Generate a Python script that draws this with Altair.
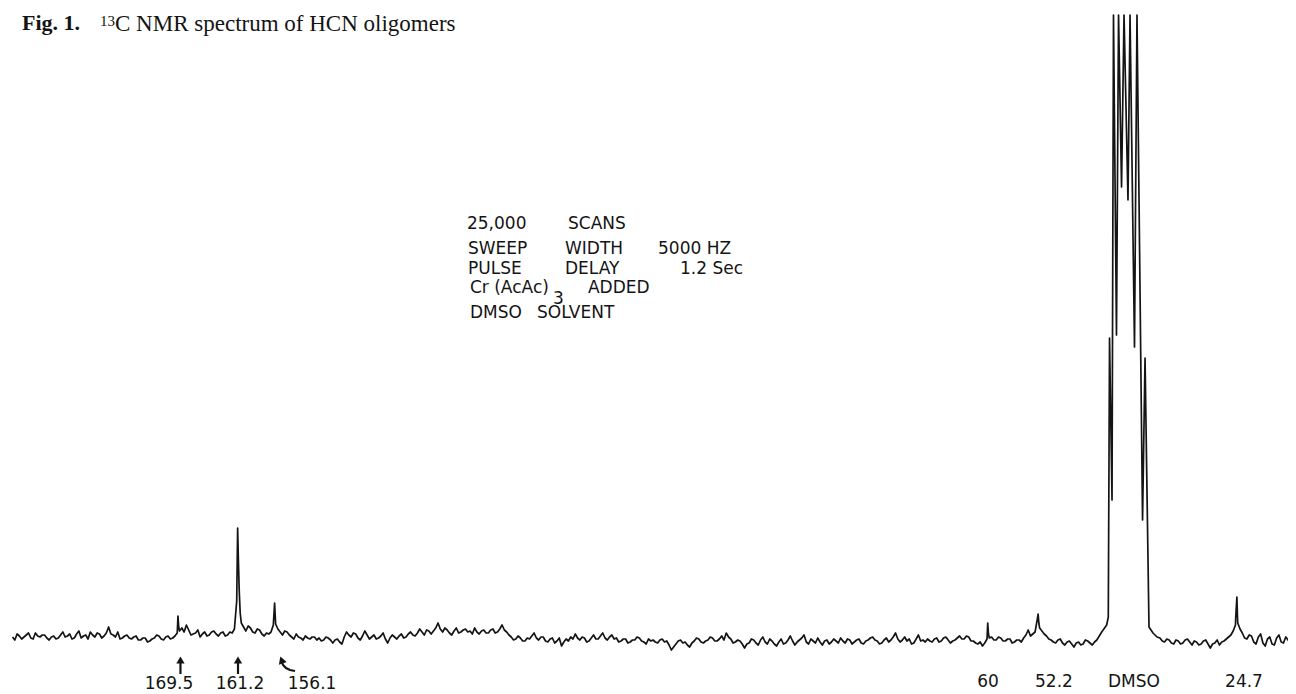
import altair as alt
import numpy as np
import pandas as pd

# ---------------- spectrum data (intensity in arbitrary units) -------------
LEFT_START = 192.0      # ppm of first baseline sample
STEP = 0.3125           # ppm between baseline samples
left_noise = [
    4, 1, 7, 5, 2, 4, 6, 8, 3, 2, 8, 5, 4, 6, 6, 3, 1, 4, 5, 2,
    3, 6, 9, 4, 5, 7, 2, 3, 7, 10, 3, 5, 6, 2, 9, 6, 4, 8, 7, 3,
    5, 8, 14, 7, 6, 4, 9, 2, 3, 5, 6, 3, 2, 4, 5, 1, 1, 3, 3, -1,
    0, 2, 3, 6, 5, 2, 1, 4, 5, 2, 3, 5, 8, 10, 13, 9, 16, 11, 6, 7,
    8, 11, 4, 7, 9, 5, 6, 9, 10, 7, 5, 8, 9, 5, 6, 9, 8, 12, 40, 58,
    18, 14, 10, 15, 13, 9, 8, 12, 11, 7, 5, 8, 7, 9, 16, 17, 12, 9, 6, 10,
    9, 6, 4, 2, 7, 4, 3, 1, 5, 3, 2, 4, 4, 1, 3, 0, 1, 4, 3, 1,
    -2, 1, 2, -1, -3, 4, 9, 6, 4, 8, 7, 3, 1, 5, 10, 6, 2, 4, 6, 2,
    3, 5, 8, 2, -2, 3, 6, 4, 2, 5, 7, 3, 4, 7, 9, 6, 5, 8, 12, 9,
    6, 11, 10, 7, 10, 13, 18, 12, 9, 13, 11, 8, 6, 10, 13, 8, 9, 11, 12, 9,
    10, 7, 13, 9, 7, 10, 11, 8, 8, 11, 12, 8, 9, 12, 16, 11, 9, 6, 4, 1,
    2, 5, 3, 0, 0, 3, 2, 5, 8, 3, 1, 4, 4, 0, -1, 2, 3, -2, 0, 3,
    -5, -1, 2, 0, 4, 2, 7, 3, 1, 4, 3, -1, 0, 3, 6, 2, 2, 5, 8, 3,
    1, 4, 6, 2, 3, -1, 0, 2, 2, -2, -1, 1, 1, 4, 3, 0, -1, -3, 2, 0,
    1, -1, -2, 1, 2, -1, 0, -4, -9, -6, -3, 0, 1, -2, -1, -4, -6, -2, 0, 3,
    2, -1, -2, 0, 1, 4, 3, 0, 0, 2, 5, 1, 8, 4, 2, -2, -1, 1, 0, -3,
    -7, -3, -2, 2, 1, -2, -4, 1, 4, -1, -3, 2, 0, -3, -5, -1, 2, -3, -2, 1,
    5, 0, -4, -1, 1, 3, 6, -1, -3, 2, 0, -2, 3, -1, -4, 0, 1, -3, -1, 2,
    0, -2, 3, 0, -2, 2, 1, -3, -1, 1, 2, -2, -3, 0, 1, 3, 4, 1, 0, -3,
    -2, 1, 3, -1, 1, 4, 8, 2, -1, 1, 4, 0, 2, -3, -2, 2, 6, 0, 1, -1,
    2, 0, -1, 2, 3, -1, 0, 3, 4, 1, -2, 0, 1, 3, 5, 2, 2, 5, 4, 0,
    0, -2, -3, -1, -5, -2, 2, 3, 4, 1, 1, 4, 3, 0, 0, 2, 2, -2, -1, 1,
    1, -1, 3, 6, 11, 5, 7, 9, 22, 13, 10, 7, 5, 2, 1, -1, -2, 1, 2, -2,
    -4, -1, 0, -3, -6, -2, -1, -4, -3, 1, 0, -2, -4, -1, 1,
]
RIGHT_START = 35.25
right_noise = [
    3, 0, -1, 2, 1, -2, -3, 1, 0, -3, -2, 1, 2, -1, -4, 0, -1, -4, -3, 0,
    1, -3, -7, -3, -2, 1, -4, -1, 0, 2, 4, 6, 10, 16, 18, 12, 8, 3, 2, 6,
    5, -1, -3, 4, 7, -2, -5, 2, 4, -3, -4, 3, 6, -1, -2, 4, 1, -3, -4,
]

# sharp resonances (ppm, intensity)
peak_ppm = [169.4, 169.3, 161.25, 161.15, 161.02, 160.9, 156.2, 156.08,
            58.78, 58.68, 51.9, 51.78, 24.9, 24.74, 24.68]
peak_int = [25, 14, 113, 82, 48, 28, 38, 20,
            18, 7, 27, 17, 24, 44, 28]

# DMSO-d6 septet (inner lines run off the top of the chart paper)
dmso_ppm = [43.21, 42.53, 42.31, 42.14, 41.80, 41.60, 41.19, 40.91, 40.50, 40.16,
            39.62, 39.34, 38.73, 38.39, 37.63, 37.29, 36.75, 36.20, 35.65]
dmso_int = [9, 16, 24, 303, 141, 626, 306, 626, 454, 626,
            441, 626, 294, 626, 121, 283, 14, 8, 4]

left_ppm = LEFT_START - STEP * np.arange(len(left_noise))
right_ppm = RIGHT_START - STEP * np.arange(len(right_noise))

spec = pd.DataFrame({
    "ppm": np.concatenate([left_ppm, right_ppm, peak_ppm, dmso_ppm]),
    "I": np.concatenate([left_noise, right_noise, peak_int, dmso_int]).astype(float),
}).sort_values("ppm", ascending=False)

# ---------------- annotations ----------------
title_bold = ["Fig. 1."]
title_bold_ppm = [190.71]
title_bold_I = [611]
title_sup = ["13"]
title_sup_ppm = [180.05]
title_sup_I = [615]
title_rest = ["C NMR spectrum of HCN oligomers"]
title_rest_ppm = [178.0]
title_rest_I = [610]

param_text = ["25,000", "SCANS", "SWEEP", "WIDTH", "5000 HZ", "PULSE", "DELAY",
              "1.2 Sec", "Cr (AcAc)", "3", "ADDED", "DMSO", "SOLVENT"]
param_ppm = [129.92, 116.12, 129.78, 116.53, 103.82, 129.78, 116.53,
             100.82, 129.51, 118.17, 113.39, 129.51, 120.35]
param_I = [412, 412, 387, 387, 387, 367, 367, 367, 348, 337, 348, 323, 323]

label_text = ["169.5", "161.2", "156.1", "60", "52.2", "DMSO", "24.7"]
label_ppm = [170.63, 160.93, 151.09, 58.74, 49.73, 38.8, 23.77]
label_I = [-48, -48, -48, -46, -46, -46, -46]

arrow_ppm = [169.06, 161.2]
arrow_top = [-22, -22]
arrow_bot = [-33, -33]
arrow_head = [-19, -19]

curve_ppm = [155.19, 155.05, 154.64, 154.1, 153.41]
curve_I = [-21, -24, -27, -29, -30]
curve_head_ppm = [155.25]
curve_head_I = [-19]

# ---------------- chart ----------------
xs = alt.Scale(domain=[17.76, 192.62], reverse=True, nice=False, zero=False)
ys = alt.Scale(domain=[-53, 633], nice=False, zero=False)
INK = "#141414"


def X():
    return alt.X("ppm:Q", scale=xs, axis=None)


def Y(field="I"):
    return alt.Y(f"{field}:Q", scale=ys, axis=None)


line = alt.Chart(spec).mark_line(color=INK, strokeWidth=1.7, strokeJoin="round").encode(x=X(), y=Y())


def texts(t, p, i, **kw):
    df = pd.DataFrame({"t": t, "ppm": p, "I": i})
    return alt.Chart(df).mark_text(color=INK, baseline="alphabetic", **kw).encode(
        x=X(), y=Y(), text="t:N")


t1 = texts(title_bold, title_bold_ppm, title_bold_I, font="Liberation Serif",
           fontWeight="bold", fontSize=22, align="left")
t2 = texts(title_sup, title_sup_ppm, title_sup_I, font="Liberation Serif",
           fontSize=15, align="left")
t3 = texts(title_rest, title_rest_ppm, title_rest_I, font="Liberation Serif",
           fontSize=23, align="left")
tp = texts(param_text, param_ppm, param_I, font="DejaVu Sans", fontSize=17, align="left")
tl = texts(label_text, label_ppm, label_I, font="DejaVu Sans", fontSize=17, align="center")

arr_df = pd.DataFrame({"ppm": arrow_ppm, "top": arrow_top, "bot": arrow_bot, "head": arrow_head})
shafts = alt.Chart(arr_df).mark_rule(color=INK, strokeWidth=2.2).encode(
    x=X(), y=Y("top"), y2="bot:Q")
heads = alt.Chart(arr_df).mark_point(shape="triangle-up", filled=True, size=70,
                                     color=INK, opacity=1).encode(x=X(), y=Y("head"))
curve = alt.Chart(pd.DataFrame({"ppm": curve_ppm, "I": curve_I})).mark_line(
    color=INK, strokeWidth=2.2).encode(x=X(), y=Y())
curve_head = alt.Chart(pd.DataFrame({"ppm": curve_head_ppm, "I": curve_head_I})).mark_point(
    shape="triangle-up", filled=True, size=70, color=INK, opacity=1, angle=340).encode(x=X(), y=Y())

chart = alt.layer(line, t1, t2, t3, tp, tl, shafts, heads, curve, curve_head).properties(
    width=1280, height=686, padding=0, background="white",
    autosize=alt.AutoSizeParams(type="none"),
).configure_view(stroke=None)

chart.save("out.html", embed_options={"renderer": "svg", "actions": False})
